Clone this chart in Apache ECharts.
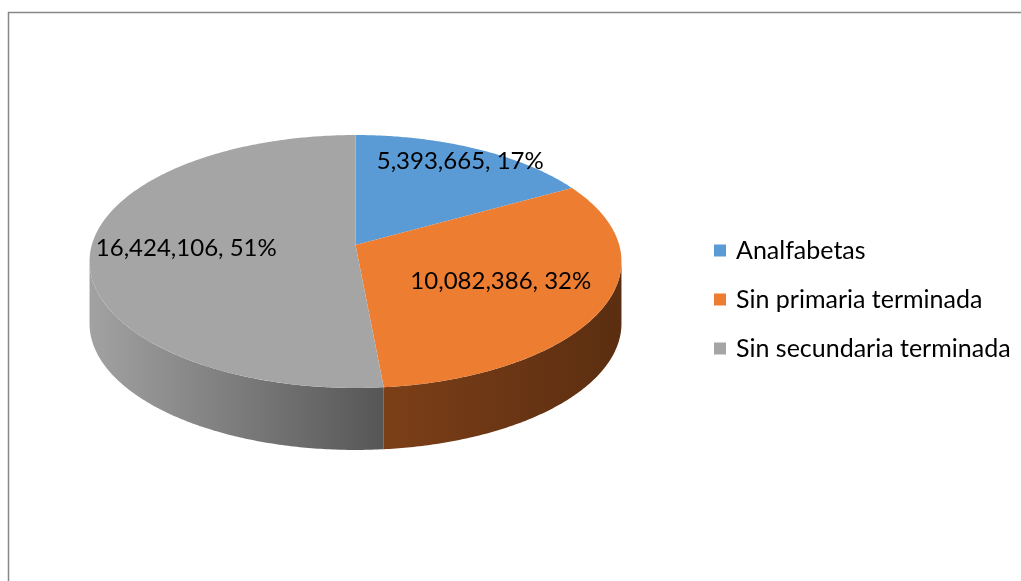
<!DOCTYPE html>
<html>
<head>
<meta charset="utf-8">
<script src="https://cdn.jsdelivr.net/npm/echarts@6/dist/echarts.min.js"></script>
<style>
  html, body { margin: 0; padding: 0; background: #fff; }
  #chart { width: 1021px; height: 581px; }
</style>
</head>
<body>
<div id="chart"></div>
<script>
// datos
const categories = ['Analfabetas', 'Sin primaria terminada', 'Sin secundaria terminada'];
const values = [5393665, 10082386, 16424106];

// estilos
const topColors = ['#5B9BD5', '#ED7D31', '#A5A5A5'];
const sideColors = [['#3f6f9a', '#2c5276'], ['#7c3f18', '#5b2e11'], ['#a2a2a2', '#565656']];
const labelRadius = [0.86, 0.6, 0.64];
const FONT = 'Lato, "Noto Sans", sans-serif';

// geometría del pastel en perspectiva
const pie = { cx: 355.5, cy: 245, a: 263.7, b: 124.3, k: 0.1304, depth: 62 };

const total = values.reduce((s, v) => s + v, 0);
const startAngles = [];
let acc = 0;
values.forEach(v => {
  startAngles.push(acc / total * Math.PI * 2);
  acc += v;
});

// borde visible del lateral
const sil1 = Math.acos(-pie.k);
const sil2 = Math.PI * 2 - sil1;

function proj(theta, r, dy) {
  const d = 1 + pie.k * r * Math.cos(theta);
  return [
    pie.cx + pie.a * r * Math.sin(theta) / d,
    pie.cy - pie.b * r * Math.cos(theta) / d + (dy || 0)
  ];
}

function arc(t1, t2, dy) {
  const pts = [];
  const n = Math.max(2, Math.ceil((t2 - t1) / 0.01));
  for (let j = 0; j <= n; j++) pts.push(proj(t1 + (t2 - t1) * j / n, 1, dy));
  return pts;
}

function renderSlice(i) {
  return function (params, api) {
    const v = api.value(0);
    const t1 = startAngles[i];
    const t2 = t1 + v / total * Math.PI * 2;
    const children = [];

    // lateral
    const s1 = Math.max(t1, sil1);
    const s2 = Math.min(t2, sil2);
    if (s2 > s1) {
      const topArc = arc(s1, s2, 0);
      const botArc = arc(s1, s2, pie.depth).reverse();
      const xs = topArc.map(p => p[0]);
      children.push({
        type: 'polygon',
        shape: { points: topArc.concat(botArc) },
        style: {
          fill: {
            type: 'linear', global: true,
            x: Math.min(...xs), y: 0, x2: Math.max(...xs), y2: 0,
            colorStops: [
              { offset: 0, color: sideColors[i][0] },
              { offset: 1, color: sideColors[i][1] }
            ]
          }
        }
      });
    }

    // cara superior
    children.push({
      type: 'polygon',
      shape: { points: [proj(0, 0, 0)].concat(arc(t1, t2, 0)) },
      style: { fill: topColors[i] }
    });

    // etiqueta
    const lp = proj((t1 + t2) / 2, labelRadius[i], 0);
    children.push({
      type: 'text',
      x: lp[0],
      y: lp[1],
      style: {
        text: v.toLocaleString('en-US') + ', ' + Math.round(v / total * 100) + '%',
        align: 'center',
        verticalAlign: 'middle',
        font: '24px ' + FONT,
        fill: '#000'
      }
    });

    return { type: 'group', children };
  };
}

const chart = echarts.init(document.getElementById('chart'));

chart.setOption({
  animation: false,
  legend: {
    orient: 'vertical',
    left: 714,
    top: 238,
    padding: 0,
    itemWidth: 12,
    itemHeight: 12,
    itemGap: 24,
    icon: 'rect',
    textStyle: { fontFamily: FONT, fontSize: 25, lineHeight: 25, color: '#000', padding: [0, 0, 0, 5] },
    data: categories
  },
  graphic: [{
    type: 'rect',
    shape: { x: 8.5, y: 12.5, width: 1200, height: 800 },
    style: { fill: 'none', stroke: '#878787', lineWidth: 1.5 },
    silent: true
  }],
  series: categories.map((name, i) => ({
    type: 'custom',
    name,
    coordinateSystem: 'none',
    itemStyle: { color: topColors[i] },
    renderItem: renderSlice(i),
    data: [[values[i]]]
  }))
});
</script>
</body>
</html>
